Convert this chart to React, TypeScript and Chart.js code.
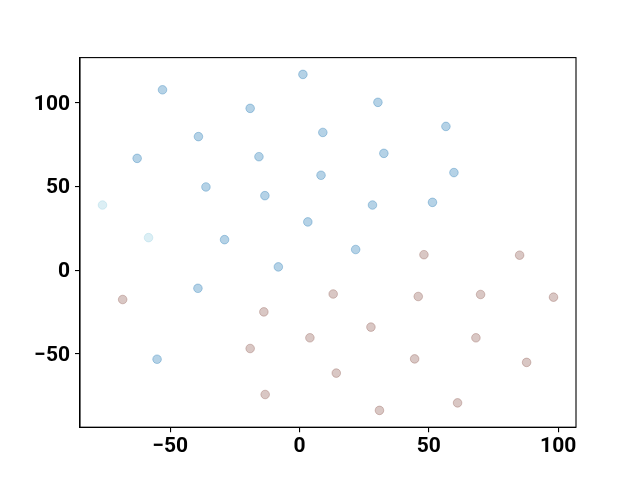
import React, { useEffect, useRef } from "react";
import { Chart, registerables } from "chart.js";

Chart.register(...registerables);

const blueX = [1.3, -53.0, -19.1, 30.3, 56.6, -39.1, 9.0, -62.8, -15.7, 32.6, -36.2, 8.3, 59.7, -13.4, 28.2, 51.4, 3.2, 21.7, -29.0, -8.2, -39.3, -55.1];
const blueY = [117.1, 107.9, 96.8, 100.4, 86.0, 79.9, 82.4, 66.9, 67.9, 69.9, 49.8, 56.8, 58.4, 44.6, 39.0, 40.6, 28.9, 12.4, 18.3, 2.0, -10.8, -53.2];
const cyanX = [-76.2, -58.4];
const cyanY = [39.0, 19.5];
const brownX = [48.1, 85.1, -68.4, 13.0, 45.9, 70.0, 98.2, -13.8, 4.0, 27.6, 68.2, -19.1, 44.5, 87.8, 14.2, -13.3, 30.9, 61.1];
const brownY = [9.3, 9.0, -17.5, -14.2, -15.7, -14.5, -16.1, -24.9, -40.4, -34.0, -40.4, -46.8, -53.0, -55.1, -61.5, -74.3, -83.8, -79.3];
const xTicks = [-50, 0, 50, 100];
const yTicks = [-50, 0, 50, 100];

const pts = (xs: number[], ys: number[]) => xs.map((x, i) => ({ x, y: ys[i] }));

export default function App() {
  const ref = useRef<HTMLCanvasElement>(null);
  useEffect(() => {
    if (!ref.current) return;
    const frame = {
      id: "frame",
      afterDatasetsDraw(chart: any) {
        const { ctx, chartArea: a } = chart;
        ctx.save();
        ctx.strokeStyle = "#000";
        ctx.lineWidth = 1.1;
        ctx.strokeRect(a.left, a.top, a.right - a.left, a.bottom - a.top);
        ctx.restore();
      },
    };
    const fmt = (v: any) => String(v).replace("-", "\u2212");
    const font = { family: "Roboto", size: 21, weight: "bold" as const };
    const chart = new Chart(ref.current, {
      type: "scatter",
      data: {
        datasets: [
          { data: pts(blueX, blueY), backgroundColor: "rgba(31,119,180,0.33)", borderColor: "rgba(31,119,180,0.33)", borderWidth: 1, pointRadius: 4.3 },
          { data: pts(cyanX, cyanY), backgroundColor: "rgba(150,205,225,0.33)", borderColor: "rgba(150,205,225,0.33)", borderWidth: 1, pointRadius: 4.3 },
          { data: pts(brownX, brownY), backgroundColor: "rgba(140,86,75,0.33)", borderColor: "rgba(140,86,75,0.33)", borderWidth: 1, pointRadius: 4.3 },
        ],
      },
      options: {
        responsive: false,
        animation: false,
        layout: { padding: { top: 57.6, right: 64, left: 0, bottom: 0 } },
        plugins: { legend: { display: false }, tooltip: { enabled: false } },
        scales: {
          x: {
            type: "linear",
            min: -84.9,
            max: 106.9,
            afterBuildTicks: (s: any) => { s.ticks = xTicks.map((v) => ({ value: v })); },
            afterFit: (s: any) => { s.height = 52.8; },
            grid: { drawOnChartArea: false, drawTicks: true, tickLength: 5, tickColor: "#000", lineWidth: 1.1 },
            border: { display: true, color: "#000", width: 1.1 },
            ticks: { color: "#000", font, padding: 2, maxRotation: 0, callback: fmt },
          },
          y: {
            type: "linear",
            min: -93.85,
            max: 127.15,
            afterBuildTicks: (s: any) => { s.ticks = yTicks.map((v) => ({ value: v })); },
            afterFit: (s: any) => { s.width = 80; },
            grid: { drawOnChartArea: false, drawTicks: true, tickLength: 5, tickColor: "#000", lineWidth: 1.1 },
            border: { display: true, color: "#000", width: 1.1 },
            ticks: { color: "#000", font, padding: 5, labelOffset: 1.5, callback: fmt },
          },
        },
      },
      plugins: [frame],
    });
    return () => chart.destroy();
  }, []);
  return (
    <div style={{ position: "fixed", left: 0, top: 0, width: 640, height: 480, background: "#fff" }}>
      <canvas ref={ref} width={640} height={480} />
    </div>
  );
}
